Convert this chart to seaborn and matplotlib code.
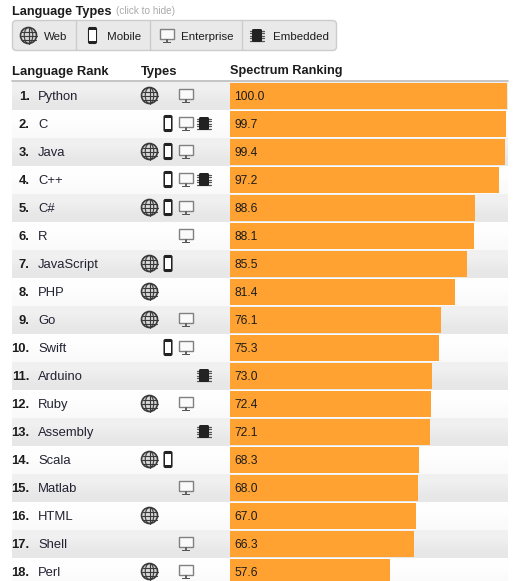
import matplotlib
matplotlib.use("Agg")

import matplotlib.pyplot as plt
from matplotlib.patches import Circle, Ellipse, FancyBboxPatch, Rectangle
import pandas as pd
import seaborn as sns

# data
languages = ["Python", "C", "Java", "C++", "C#", "R", "JavaScript", "PHP", "Go",
             "Swift", "Arduino", "Ruby", "Assembly", "Scala", "Matlab", "HTML",
             "Shell", "Perl"]
scores = [100.0, 99.7, 99.4, 97.2, 88.6, 88.1, 85.5, 81.4, 76.1,
          75.3, 73.0, 72.4, 72.1, 68.3, 68.0, 67.0, 66.3, 57.6]
web = [1, 0, 1, 0, 1, 0, 1, 1, 1, 0, 0, 1, 0, 1, 0, 1, 0, 1]
mobile = [0, 1, 1, 1, 1, 0, 1, 0, 0, 1, 0, 0, 0, 1, 0, 0, 0, 0]
enterprise = [1, 1, 1, 1, 1, 1, 0, 0, 1, 1, 0, 1, 0, 0, 1, 0, 1, 1]
embedded = [0, 1, 0, 1, 0, 0, 0, 0, 0, 0, 1, 0, 1, 0, 0, 0, 0, 0]
legend_names = ["Web", "Mobile", "Enterprise", "Embedded"]

W, H = 527, 581
ROW_TOP = 82
ROW_H = 28
LEFT, BAR_LEFT, RIGHT = 12, 230, 507
DARK = "#1c1c1c"

sns.set_style("white")
plt.rcParams["font.family"] = ["Liberation Sans", "DejaVu Sans"]


def px(size):
    return size * 72 / 100


def draw_globe(ax, x, y):
    ax.add_patch(Circle((x, y), 8, fc="#d8d8d8", ec="#3a3a3a", lw=1.2, zorder=3))
    ax.add_patch(Ellipse((x, y), 8.5, 16, fc="none", ec="#3a3a3a", lw=0.8, zorder=4))
    ax.plot([x, x], [y - 8, y + 8], color="#3a3a3a", lw=0.8, zorder=4)
    for dy in (-4, 0, 4):
        half = 8 if dy == 0 else 7
        ax.plot([x - half, x + half], [y + dy, y + dy], color="#3a3a3a", lw=0.8, zorder=4)


def draw_phone(ax, x, y):
    ax.add_patch(FancyBboxPatch((x - 4, y - 8), 8, 16, boxstyle="round,pad=0,rounding_size=1.5",
                                fc="#222222", ec="#222222", lw=0.8, zorder=3))
    ax.add_patch(Rectangle((x - 3.3, y - 5.8), 6.6, 11.5, fc="white", ec="none", zorder=4))


def draw_monitor(ax, x, y):
    ax.add_patch(Rectangle((x - 7, y - 7), 14, 10.5, fc="#fafafa", ec="#808080", lw=1, zorder=3))
    ax.add_patch(Rectangle((x - 1, y + 3.5), 2, 3, fc="#666666", ec="none", zorder=3))
    ax.add_patch(Rectangle((x - 4, y + 6), 8, 1.3, fc="#555555", ec="none", zorder=3))


def draw_chip(ax, x, y):
    for dy in (-5, -2.5, 0, 2.5, 5):
        ax.plot([x - 7, x + 7], [y + dy, y + dy], color="#555555", lw=0.9, zorder=3)
    ax.add_patch(FancyBboxPatch((x - 5, y - 6.5), 10, 13, boxstyle="round,pad=0,rounding_size=1.5",
                                fc="#222222", ec="none", zorder=4))


icon_drawers = [draw_globe, draw_phone, draw_monitor, draw_chip]
type_flags = [web, mobile, enterprise, embedded]
type_x = [149.5, 168, 185.5, 204]

fig = plt.figure(figsize=(W / 100, H / 100), dpi=100, facecolor="white")

# page layer, pixel coordinates
page = fig.add_axes([0, 0, 1, 1], zorder=0)
page.axis("off")

# legend box
page.add_patch(FancyBboxPatch((12.5, 20.5), 324, 30, boxstyle="round,pad=0,rounding_size=4",
                              fc="#e9e9e9", ec="#cccccc", lw=1))
for x in (75.5, 149.5, 241.5):
    page.plot([x, x], [21, 50], color="#cccccc", lw=1)
legend_icon_x = [28.5, 92.5, 166.5, 257]
legend_text_x = [44, 106.5, 180.5, 272.5]
for draw, ix, tx, name in zip(icon_drawers, legend_icon_x, legend_text_x, legend_names):
    draw(page, ix, 35.5)
    page.text(tx, 40, name, fontsize=px(11.5), color=DARK, va="baseline")

page.text(12, 15, "Language Types", fontsize=px(12.8), fontweight="bold", color=DARK, va="baseline")
page.text(116, 14.5, "(click to hide)", fontsize=px(10), color="#aaaaaa", va="baseline")

# table header
page.text(12, 75, "Language Rank", fontsize=px(13), fontweight="bold", color=DARK, va="baseline")
page.text(141, 75, "Types", fontsize=px(13), fontweight="bold", color=DARK, va="baseline")
page.text(230.5, 74, "Spectrum Ranking", fontsize=px(12.7), fontweight="bold", color=DARK, va="baseline")
page.plot([LEFT, RIGHT + 1], [81, 81], color="#bbbbbb", lw=1.2)

# rows
for i, name in enumerate(languages):
    top = ROW_TOP + i * ROW_H
    mid = top + ROW_H / 2 - 0.5
    shades = [[0.94], [0.905]] if i % 2 == 0 else [[0.995], [0.98]]
    page.imshow(shades, cmap="gray", vmin=0, vmax=1, aspect="auto", interpolation="bilinear",
                extent=(LEFT, RIGHT + 1, top + ROW_H, top), zorder=0)
    page.text(29.5, mid + 4.5, f"{i + 1}.", fontsize=px(13), fontweight="bold", color=DARK,
              ha="right", va="baseline")
    page.text(38, mid + 4.5, name, fontsize=px(13), color="#222233", va="baseline")
    for draw, flags, ix in zip(icon_drawers, type_flags, type_x):
        if flags[i]:
            draw(page, ix, mid)

page.set_xlim(0, W)
page.set_ylim(H, 0)

# bars
df = pd.DataFrame({"language": languages, "score": scores})
bar_ax = fig.add_axes([BAR_LEFT / W, 0, (RIGHT - BAR_LEFT) / W, (H - ROW_TOP) / H], zorder=1)
sns.barplot(data=df, x="score", y="language", orient="h", color="#ffa232", saturation=1,
            width=0.93, linewidth=0, ax=bar_ax)
bar_ax.set_xlim(0, 100)
bar_ax.set_ylim(-0.5 + (H - ROW_TOP) / ROW_H, -0.5)
bar_ax.patch.set_visible(False)
bar_ax.axis("off")
for i, s in enumerate(scores):
    bar_ax.annotate(f"{s:.1f}", xy=(0, i), xytext=(px(4), px(-4)), textcoords="offset points",
                    fontsize=px(12), color=DARK, va="baseline")

fig.savefig("out.png", dpi=100)
